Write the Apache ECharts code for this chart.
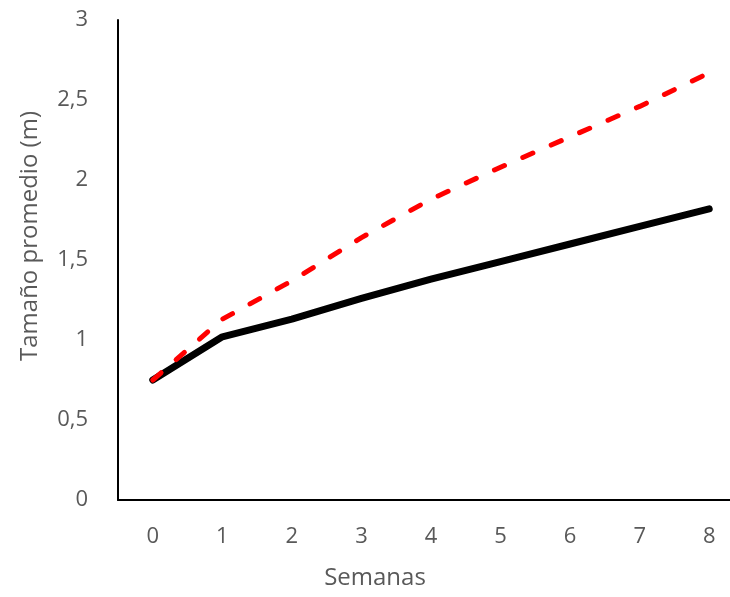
<!DOCTYPE html>
<html>
<head>
<meta charset="utf-8">
<script src="https://cdn.jsdelivr.net/npm/echarts@6/dist/echarts.min.js"></script>
<style>
html,body{margin:0;padding:0;background:#fff;}
#chart{width:730px;height:597px;}
</style>
</head>
<body>
<div id="chart"></div>
<script>
var semanas = ['0', '1', '2', '3', '4', '5', '6', '7', '8'];
var serieRoja = [0.75, 1.13, 1.37, 1.64, 1.88, 2.08, 2.27, 2.46, 2.67];
var serieNegra = [0.75, 1.02, 1.13, 1.26, 1.38, 1.49, 1.60, 1.71, 1.82];
var fuente = 'Open Sans';
var grisTexto = '#595959';

var myChart = echarts.init(document.getElementById('chart'));
var option = {
	animation: false,
	backgroundColor: '#fff',
	grid: {left: 118, top: 20, bottom: 97, right: -14, containLabel: false, outerBoundsMode: 'none'},
	xAxis: {
		type: 'category',
		data: semanas,
		boundaryGap: true,
		name: 'Semanas',
		nameLocation: 'middle',
		nameGap: 66,
		nameTextStyle: {fontFamily: fuente, fontSize: 24, color: grisTexto, padding: [0, 112, 0, 0]},
		axisLine: {lineStyle: {color: '#000', width: 2}},
		axisTick: {show: false},
		axisLabel: {fontFamily: fuente, fontSize: 22, color: grisTexto, margin: 26},
		splitLine: {show: false}
	},
	yAxis: {
		type: 'value',
		min: 0,
		max: 3,
		interval: 0.5,
		name: 'Tamaño promedio (m)',
		nameLocation: 'middle',
		nameGap: 76,
		nameTextStyle: {fontFamily: fuente, fontSize: 24, color: grisTexto, padding: [0, 0, 0, 48]},
		axisLine: {show: true, lineStyle: {color: '#000', width: 2}},
		axisTick: {show: false},
		axisLabel: {
			fontFamily: fuente, fontSize: 22, color: grisTexto, margin: 30,
			formatter: function(v){ return String(v).replace('.', ','); }
		},
		splitLine: {show: false}
	},
	series: [
		{
			name: 'negra', type: 'line', data: serieNegra,
			symbol: 'none',
			lineStyle: {color: '#000', width: 7, cap: 'round', join: 'round'}
		},
		{
			name: 'roja', type: 'line', data: serieRoja,
			symbol: 'none',
			lineStyle: {color: '#ff0000', width: 5, type: [11, 20], cap: 'round', join: 'round'}
		}
	]
};
myChart.setOption(option);
</script>
</body>
</html>
